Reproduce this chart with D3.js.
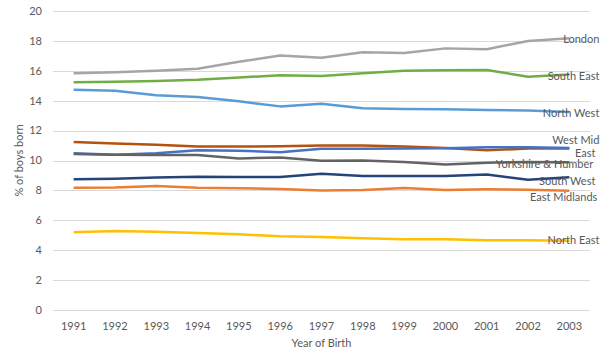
<!DOCTYPE html>
<html>
<head>
<meta charset="utf-8">
<script src="https://cdn.jsdelivr.net/npm/d3@7"></script>
<style>
  body { margin: 0; background: #fff; }
  text { font-family: Lato, "Open Sans", sans-serif; fill: #595959; }
</style>
</head>
<body>
<div id="chart"></div>
<script>
// Data
var years = ["1991", "1992", "1993", "1994", "1995", "1996", "1997", "1998", "1999", "2000", "2001", "2002", "2003"];
var yTicks = [0, 2, 4, 6, 8, 10, 12, 14, 16, 18, 20];
var regions = ["London", "South East", "North West", "West Midlands", "East", "Yorkshire & Humber", "South West", "East Midlands", "North East"];

var london       = [15.83, 15.9, 16.0, 16.14, 16.6, 17.03, 16.88, 17.24, 17.19, 17.5, 17.44, 18.0, 18.17];
var southEast    = [15.23, 15.27, 15.32, 15.4, 15.55, 15.7, 15.66, 15.83, 16.0, 16.03, 16.05, 15.6, 15.75];
var northWest    = [14.74, 14.67, 14.36, 14.25, 13.96, 13.62, 13.8, 13.49, 13.45, 13.42, 13.38, 13.35, 13.25];
var westMidlands = [11.24, 11.13, 11.06, 10.93, 10.93, 10.95, 11.0, 11.0, 10.93, 10.84, 10.68, 10.8, 10.8];
var east         = [10.48, 10.39, 10.48, 10.68, 10.66, 10.55, 10.79, 10.79, 10.8, 10.82, 10.88, 10.88, 10.84];
var yorkshire    = [10.43, 10.39, 10.37, 10.37, 10.14, 10.2, 9.98, 10.0, 9.9, 9.74, 9.85, 9.9, 9.88];
var southWest    = [8.74, 8.78, 8.87, 8.92, 8.9, 8.9, 9.12, 8.96, 8.96, 8.96, 9.06, 8.72, 8.88];
var eastMidlands = [8.18, 8.2, 8.29, 8.18, 8.14, 8.09, 8.0, 8.03, 8.16, 8.03, 8.07, 8.05, 7.98];
var northEast    = [5.2, 5.28, 5.24, 5.15, 5.06, 4.93, 4.88, 4.8, 4.73, 4.73, 4.66, 4.66, 4.64];

var seriesValues = [london, southEast, northWest, westMidlands, east, yorkshire, southWest, eastMidlands, northEast];

// Styling
var colors = ["#A5A5A5", "#70AD47", "#5B9BD5", "#B4520F", "#4472C4", "#636363", "#264478", "#ED7D31", "#FFC000"];
// label placement relative to the last point: [x offset, y offset]
var labelOffsets = [[30, 0.5], [30, 1.5], [30, 1], [-17, -8.5], [26, 5], [24, 2], [26, 4], [28, 6], [30, 0]];

var width = 600, height = 361;
var margin = { top: 11, right: 10, bottom: 51, left: 53 };

var svg = d3.select("#chart")
    .append("svg")
    .attr("width", width)
    .attr("height", height);

var x = d3.scaleBand()
    .domain(years)
    .range([margin.left, width - margin.right]);

var y = d3.scaleLinear()
    .domain([0, 20])
    .range([height - margin.bottom, margin.top]);

// Gridlines
svg.append("g")
    .selectAll("line")
    .data(yTicks)
    .enter()
    .append("line")
    .attr("x1", margin.left)
    .attr("x2", width - margin.right)
    .attr("y1", function (d) { return Math.round(y(d)) + 0.5; })
    .attr("y2", function (d) { return Math.round(y(d)) + 0.5; })
    .attr("stroke", "#D9D9D9")
    .attr("stroke-width", 1);

// Y axis labels
svg.append("g")
    .selectAll("text")
    .data(yTicks)
    .enter()
    .append("text")
    .attr("x", 42)
    .attr("y", function (d) { return y(d); })
    .attr("dy", "0.35em")
    .attr("text-anchor", "end")
    .style("font-size", "11px")
    .text(function (d) { return d; });

// X axis labels
svg.append("g")
    .selectAll("text")
    .data(years)
    .enter()
    .append("text")
    .attr("x", function (d) { return x(d) + x.bandwidth() / 2; })
    .attr("y", 330)
    .attr("text-anchor", "middle")
    .style("font-size", "11px")
    .text(function (d) { return d; });

// Axis titles
svg.append("text")
    .attr("x", (margin.left + width - margin.right) / 2)
    .attr("y", 347)
    .attr("text-anchor", "middle")
    .style("font-size", "11px")
    .text("Year of Birth");

svg.append("text")
    .attr("transform", "translate(23," + (margin.top + height - margin.bottom) / 2 + ") rotate(-90)")
    .attr("text-anchor", "middle")
    .style("font-size", "11px")
    .text("% of boys born");

// Lines
var line = d3.line()
    .x(function (d, i) { return x(years[i]) + x.bandwidth() / 2; })
    .y(function (d) { return y(d); });

svg.append("g")
    .selectAll("path")
    .data(seriesValues)
    .enter()
    .append("path")
    .attr("fill", "none")
    .attr("stroke", function (d, i) { return colors[i]; })
    .attr("stroke-width", 2.5)
    .attr("stroke-linejoin", "round")
    .attr("d", line);

// End labels (West Midlands runs off the right edge, as in the original)
var lastX = x(years[years.length - 1]) + x.bandwidth() / 2;
svg.append("g")
    .selectAll("text")
    .data(regions)
    .enter()
    .append("text")
    .attr("x", function (d, i) { return lastX + labelOffsets[i][0]; })
    .attr("y", function (d, i) { return y(seriesValues[i][years.length - 1]) + labelOffsets[i][1]; })
    .attr("dy", "0.35em")
    .attr("text-anchor", function (d, i) { return i === 3 ? "start" : "end"; })
    .style("font-size", "11px")
    .text(function (d) { return d; });
</script>
</body>
</html>
